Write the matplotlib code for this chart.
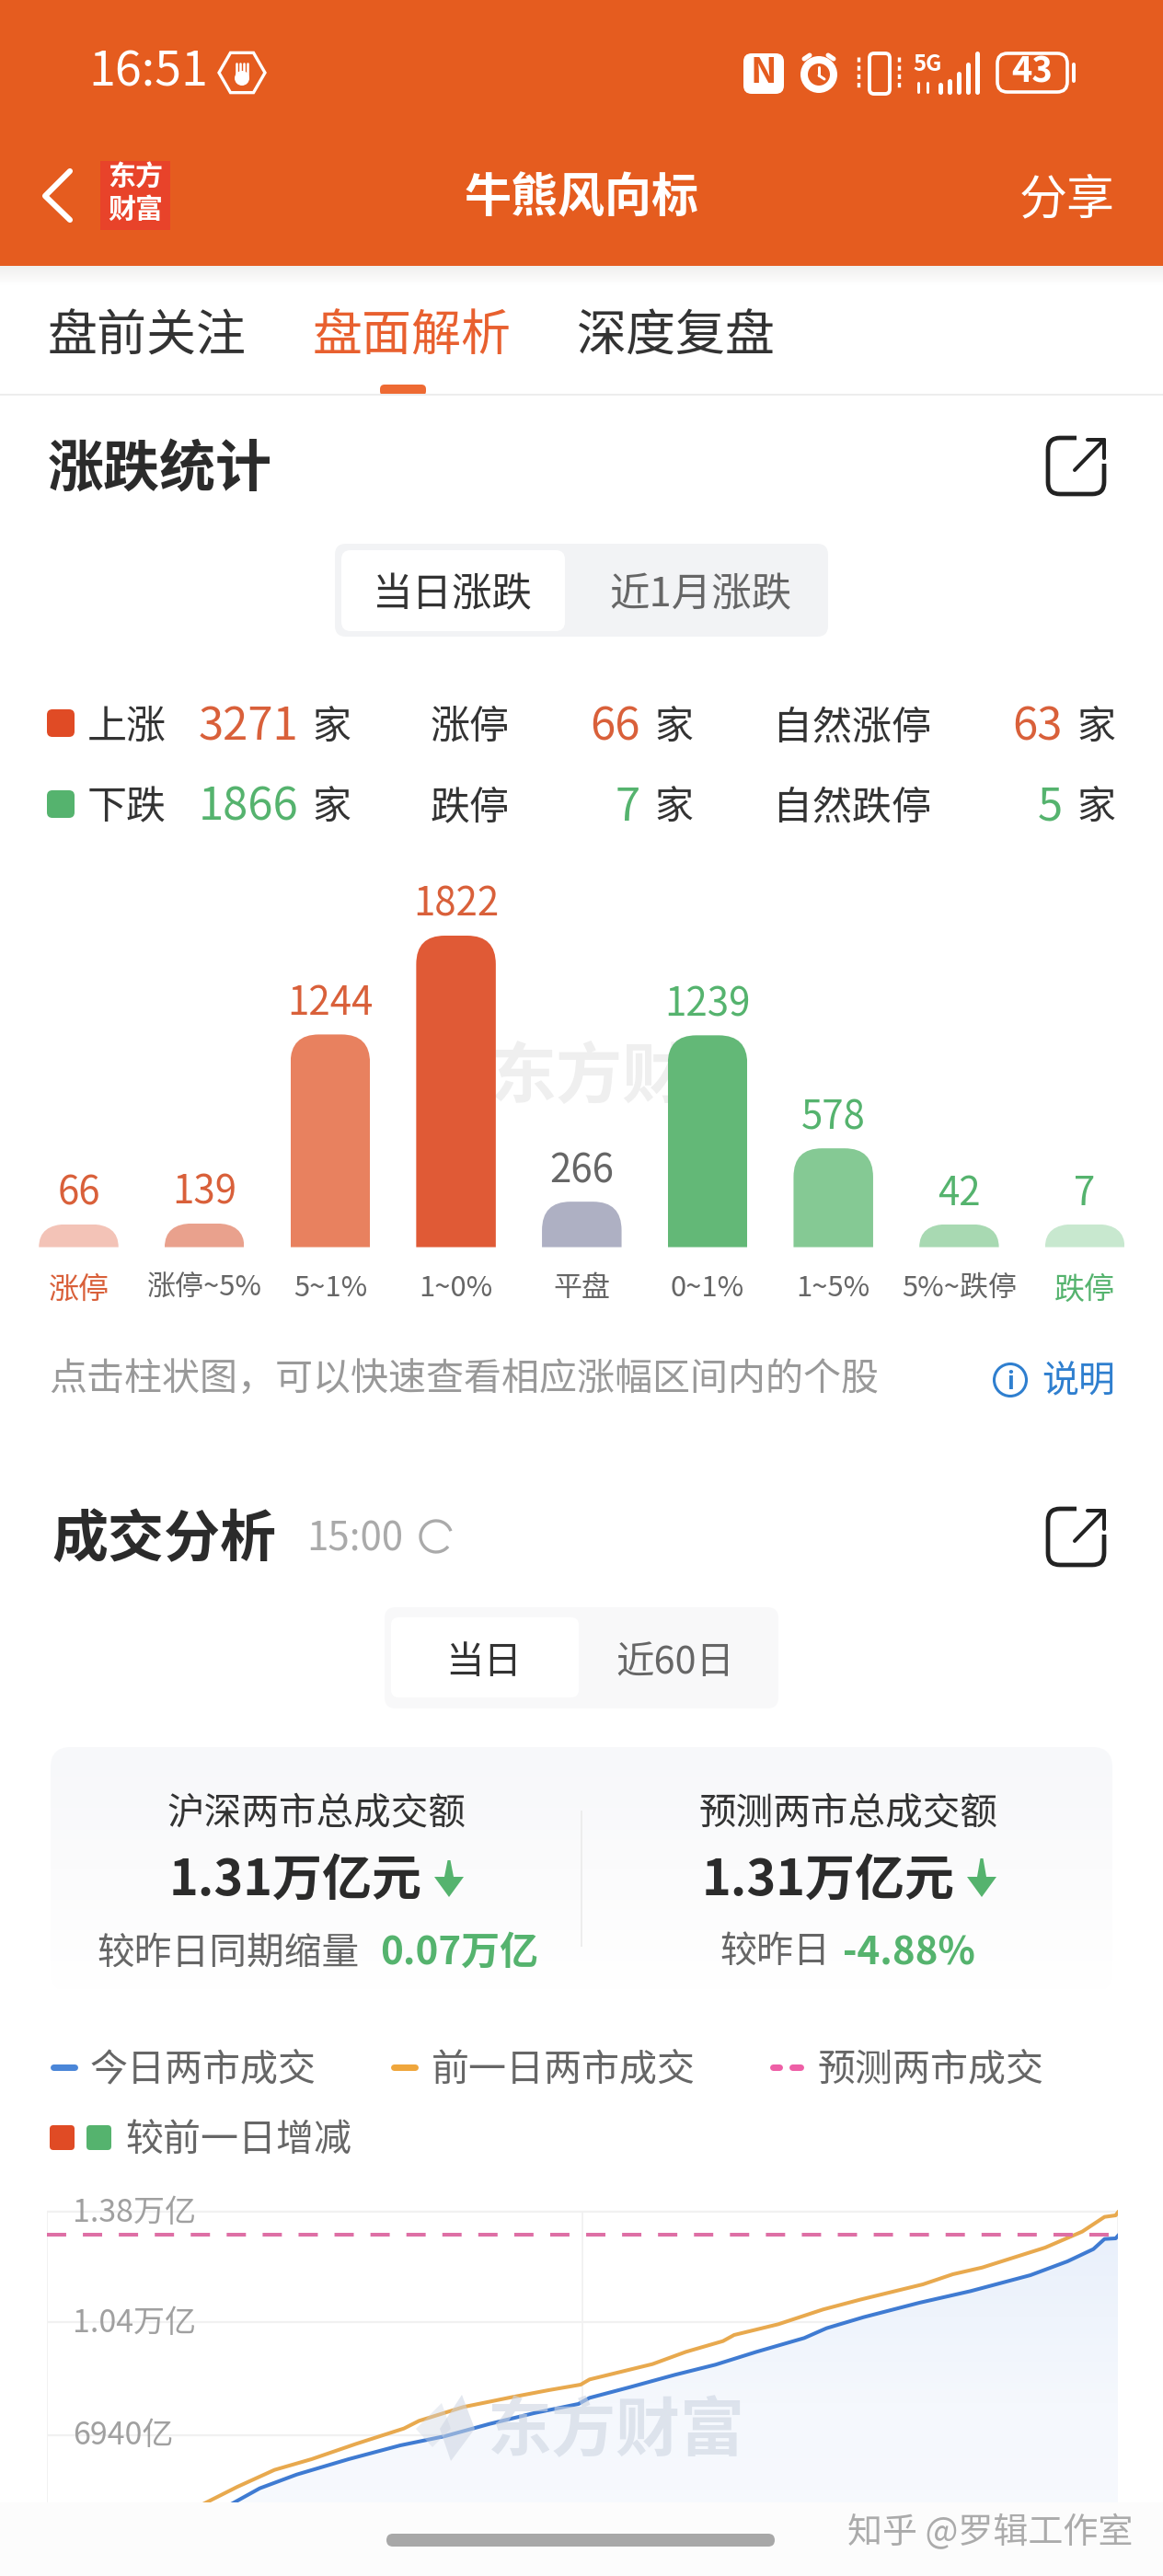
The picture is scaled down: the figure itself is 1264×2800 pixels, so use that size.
import numpy as np
import matplotlib
matplotlib.use('Agg')
import matplotlib.pyplot as plt
from matplotlib.patches import Rectangle, FancyBboxPatch, Circle, RegularPolygon, Polygon, PathPatch, Arc
from matplotlib.path import Path
from matplotlib.transforms import ScaledTranslation
from matplotlib.colors import LinearSegmentedColormap

plt.rcParams['font.family'] = ['Noto Sans CJK SC', 'DejaVu Sans']

W, H = 1264, 2800

# bar chart data
bar_cats = ['涨停', '涨停~5%', '5~1%', '1~0%', '平盘', '0~1%', '1~5%', '5%~跌停', '跌停']
bar_vals = [66, 139, 1244, 1822, 266, 1239, 578, 42, 7]
bar_cols = ['#F3C3B7', '#E9A18D', '#E8815F', '#E05A36', '#AEB0C3', '#63B877', '#85C994', '#A8D9B2', '#C8E8CF']
val_cols = ['#D9603A'] * 4 + ['#666666'] + ['#55B36E'] * 4
cat_cols = ['#D9603A'] + ['#666666'] * 7 + ['#55B36E']

# turnover lines (minutes after 9:30, 亿)
today_t = [41.5, 47.7, 56, 67.6, 79.2, 89.2, 99.2, 109.1, 119.1, 121.6, 130.7, 140.7, 149.8, 159,
           169.7, 174.7, 183, 195.5, 207, 220.4, 228.7, 234.5, 237, 239.5, 240]
today_v = [4837, 5308, 5731, 6202, 6626, 6908, 7285, 7614, 7897, 8085, 8415, 8791, 9102, 9497,
           9921, 10222, 10561, 11004, 11362, 11851, 12275, 12651, 12962, 12981, 13060]
prev_t = [35.2, 42.7, 51, 59.3, 69.3, 80, 83.4, 93.3, 104.1, 112.4, 119.6, 121.6, 135.7, 143.2,
          151.5, 154, 163.9, 173.9, 182.2, 196.3, 203, 209.6, 223.7, 232, 237, 239.5, 240]
prev_v = [4837, 5355, 5873, 6202, 6673, 7144, 7379, 7803, 8104, 8320, 8490, 8650, 9121, 9497,
          9827, 10015, 10345, 10797, 11098, 11569, 11879, 12086, 12698, 13188, 13640, 13687, 13780]
forecast = 13100
y_ticks = [6940, 10400, 13800]
y_labels = ['6940亿', '1.04万亿', '1.38万亿']

ORANGE = '#E55C1F'
RED = '#D9603A'
GREEN = '#55B36E'

fig = plt.figure(figsize=(W / 100, H / 100), dpi=100, facecolor='white')

ui = fig.add_axes([0, 0, 1, 1], zorder=0)
ui.set_xlim(0, W)
ui.set_ylim(H, 0)
ui.axis('off')


def t(x, y, s, px, color='#333333', ha='left', weight='normal', ax=ui, **kw):
    # text sits a few px below the box centre in this font
    return ax.text(x, y + 12, s, fontsize=px * 0.72, color=color, ha=ha, va='center', fontweight=weight, **kw)


def rrect(x0, y0, x1, y1, r, fc, ec='none', lw=0, ax=ui, **kw):
    p = FancyBboxPatch((x0 + r, y0 + r), x1 - x0 - 2 * r, y1 - y0 - 2 * r,
                       boxstyle='round,pad=%f,rounding_size=%f' % (r, r), fc=fc, ec=ec, lw=lw, **kw)
    ax.add_patch(p)
    return p


def seg(x0, y0, x1, y1, color='white', lw=3, ax=ui, **kw):
    ax.plot([x0, x1], [y0, y1], color=color, lw=lw * 0.72, solid_capstyle='round', **kw)


def share_icon(y0):
    rrect(1139, y0, 1200, y0 + 61, 13, 'none', ec='#222222', lw=3.4)
    ui.add_patch(Rectangle((1170, y0 - 4), 34, 32, fc='white', ec='none', zorder=3))
    seg(1168, y0 + 35, 1200, y0 + 2, '#222222', 4, zorder=4)
    seg(1182, y0 + 2, 1200, y0 + 2, '#222222', 4, zorder=4)
    seg(1200, y0 + 2, 1200, y0 + 22, '#222222', 4, zorder=4)


def down_arrow(xc, y0, y1):
    ui.add_patch(Polygon([[xc - 1.5, y0], [xc + 1.5, y0], [xc + 5, y1 - 22], [xc + 16, y1 - 22],
                          [xc, y1], [xc - 16, y1 - 22], [xc - 5, y1 - 22]], fc=GREEN, ec='none'))


# header
ui.add_patch(Rectangle((0, 0), W, 289, fc=ORANGE, ec='none'))
grad = np.linspace(0, 1, 30).reshape(-1, 1)
ui.imshow(grad, extent=(0, W, 310, 289), cmap=LinearSegmentedColormap.from_list('s', ['#F0EFEE', '#FFFFFF']),
          aspect='auto', zorder=0.5)
ui.set_xlim(0, W)
ui.set_ylim(H, 0)

t(96, 67, '16:51', 52, 'white')
ui.add_patch(RegularPolygon((263, 79), 6, radius=25, orientation=np.pi / 6, fc='none', ec='white', lw=2.4))
ui.add_patch(Circle((263, 85), 8, fc='white', ec='none'))
for dx in (-6, -2, 2, 6):
    seg(263 + dx, 82, 263 + dx, 69, 'white', 2.6)

rrect(808, 58, 852, 102, 9, 'white')
t(830, 66, 'N', 38, ORANGE, ha='center', weight='bold')
ui.add_patch(Circle((890, 81), 20, fc='white', ec='none'))
ui.add_patch(Circle((890, 81), 12, fc=ORANGE, ec='none'))
seg(890, 73, 890, 82, 'white', 3)
seg(890, 82, 896, 86, 'white', 3)
seg(874, 64, 880, 60, 'white', 5)
seg(906, 64, 900, 60, 'white', 5)
rrect(945, 58, 967, 102, 5, 'none', ec='white', lw=2.8)
for x in (933, 977):
    seg(x, 62, x, 96, 'white', 3.4, ls=(0, (1.5, 1.2)))
t(1008, 58, '5G', 24, 'white', ha='center', weight='bold')
for i, top_px in enumerate([92, 88, 80, 70, 58]):
    seg(1022 + i * 10, 100, 1022 + i * 10, top_px, 'white', 5)
seg(998, 90, 998, 100, 'white', 3)
seg(1008, 90, 1008, 100, 'white', 3)
rrect(1084, 58, 1160, 100, 11, 'none', ec='white', lw=2.6)
t(1122, 66, '43', 38, 'white', ha='center', weight='bold')
seg(1167, 70, 1167, 88, 'white', 4)

ui.plot([76, 49, 76], [186, 213, 239], color='white', lw=4.4, solid_capstyle='round', solid_joinstyle='round')
ui.add_patch(Rectangle((109, 175), 76, 75, fc='#E8432A', ec='none'))
t(147, 181, '东方', 30, 'white', ha='center', weight='bold')
t(147, 216, '财富', 30, 'white', ha='center', weight='bold')
t(632, 204, '牛熊风向标', 51, 'white', ha='center', weight='bold')
t(1212, 206, '分享', 52, 'white', ha='right')

# tabs
t(52, 354, '盘前关注', 54, '#333333')
t(340, 354, '盘面解析', 54, '#E8602F')
t(627, 354, '深度复盘', 54, '#333333')
rrect(413, 418, 463, 430, 5, '#EE6A33')
ui.add_patch(Rectangle((0, 428), W, 2, fc='#EDEDED', ec='none', zorder=2))

# 涨跌统计
t(52, 500, '涨跌统计', 61, '#2B2B2B', weight='bold')
share_icon(476)
rrect(364, 591, 900, 692, 12, '#F2F3F5')
rrect(371, 598, 614, 686, 10, 'white')
t(492, 635, '当日涨跌', 43.5, '#333333', ha='center')
t(761, 635, '近1月涨跌', 43.5, '#666666', ha='center')

rrect(51, 771, 81, 801, 6, '#E04B25')
rrect(51, 859, 81, 889, 6, GREEN)
for y, head, n0, col, h2, n1, h3, n2 in [(779, '上涨', '3271', RED, '涨停', '66', '自然涨停', '63'),
                                         (866, '下跌', '1866', GREEN, '跌停', '7', '自然跌停', '5')]:
    t(95, y, head, 43)
    t(324, y, n0, 49, col, ha='right')
    t(339, y, '家', 42)
    t(468, y, h2, 43)
    t(696, y, n1, 49, col, ha='right')
    t(711, y, '家', 42)
    t(840, y, h3, 43)
    t(1155, y, n2, 49, col, ha='right')
    t(1170, y, '家', 42)

t(533, 1160, '东方财', 72, '#EFEFEF', weight='bold')

# bar chart
step = 136.7
base_y = 1355.6
top_y = 1017.0
ax = fig.add_axes([(85.5 - step / 2) / W, (H - base_y) / H, 9 * step / W, (base_y - top_y) / H], zorder=1)
ax.patch.set_alpha(0)
xs = np.arange(len(bar_vals))
per_px = 1822 / (base_y - top_y)
min_h = 25 * per_px
heights = np.maximum(bar_vals, min_h)
bar_w = 86.5 / step
bars = ax.bar(xs, heights, width=bar_w, color=bar_cols)
ax.set_xlim(-0.5, len(bar_vals) - 0.5)
ax.set_ylim(0, 1822)
rx = 31 / step
for b, x, h in zip(bars, xs, heights):
    ry = min(h, 31 * per_px)
    x0, x1 = x - bar_w / 2, x + bar_w / 2
    verts = [(x0, 0), (x0, h - ry), (x0, h), (x0 + rx, h), (x1 - rx, h), (x1, h), (x1, h - ry), (x1, 0), (x0, 0)]
    codes = [Path.MOVETO, Path.LINETO, Path.CURVE3, Path.CURVE3, Path.LINETO, Path.CURVE3, Path.CURVE3,
             Path.LINETO, Path.CLOSEPOLY]
    b.set_clip_path(PathPatch(Path(verts, codes), transform=ax.transData))
for x, h, v, c in zip(xs, heights, bar_vals, val_cols):
    ax.annotate(str(v), (x, h), xytext=(0, 33 * 0.72), textcoords='offset points', ha='center', va='center',
                fontsize=42 * 0.72, color=c, annotation_clip=False)
ax.set_xticks(xs)
ax.set_xticklabels(bar_cats, fontsize=31 * 0.72)
for lab, c in zip(ax.get_xticklabels(), cat_cols):
    lab.set_color(c)
    if c != '#666666':
        lab.set_fontsize(33 * 0.72)
ax.tick_params(axis='x', length=0, pad=21)
ax.set_yticks([])
for s in ax.spines.values():
    s.set_visible(False)

t(53, 1488, '点击柱状图，可以快速查看相应涨幅区间内的个股', 41, '#999999')
ui.add_patch(Circle((1098, 1500), 17.5, fc='none', ec='#2F7FCF', lw=2.2))
t(1098, 1490, 'i', 26, '#2F7FCF', ha='center', weight='bold')
t(1132, 1490, '说明', 40, '#2F7FCF')

# 成交分析
t(56, 1662, '成交分析', 61, '#2B2B2B', weight='bold')
t(333, 1662, '15:00', 42, '#AAAAAA')
ui.add_patch(Arc((474, 1670), 34, 34, theta1=40, theta2=340, ec='#AAAAAA', lw=2.4))
share_icon(1640)
rrect(418, 1747, 846, 1857, 12, '#F8F8F9')
rrect(425, 1758, 629, 1845, 8, 'white')
t(526, 1796, '当日', 41.5, '#333333', ha='center')
t(734, 1796, '近60日', 41.5, '#666666', ha='center')

card = rrect(55, 1899, 1209, 2165, 22, 'none')
img = ui.imshow(np.linspace(0, 1, 80).reshape(-1, 1), extent=(55, 1209, 2165, 1899), aspect='auto',
                cmap=LinearSegmentedColormap.from_list('c', ['#F7F8FA', '#FBFBFC', '#FFFFFF']), zorder=0.6)
img.set_clip_path(card)
ui.set_xlim(0, W)
ui.set_ylim(H, 0)
ui.add_patch(Rectangle((631, 1968), 2, 148, fc='#EDEDED', ec='none', zorder=1))
t(344, 1960, '沪深两市总成交额', 40.6, '#333333', ha='center')
t(922, 1960, '预测两市总成交额', 40.6, '#333333', ha='center')
t(184, 2032, '1.31万亿元', 54, '#2B2B2B', weight='bold')
t(763, 2032, '1.31万亿元', 54, '#2B2B2B', weight='bold')
down_arrow(488, 2022, 2062)
down_arrow(1067, 2020, 2062)
t(105, 2111, '较昨日同期缩量', 40.7, '#666666')
t(413, 2111, '0.07万亿', 42, GREEN, weight='bold')
t(782, 2111, '较昨日', 40, '#666666')
t(916, 2111, '-4.88%', 42, GREEN, weight='bold')

# legend
seg(58, 2247, 81, 2247, '#4A86D8', 7)
t(98, 2238, '今日两市成交', 41, '#666666')
seg(428, 2247, 451, 2247, '#EFA63C', 7)
t(469, 2238, '前一日两市成交', 41, '#666666')
seg(840, 2247, 847, 2247, '#EE5FA6', 7)
seg(861, 2247, 870, 2247, '#EE5FA6', 7)
t(888, 2238, '预测两市成交', 41, '#666666')
rrect(54, 2310, 81, 2337, 4, '#E04B25')
rrect(94, 2310, 121, 2337, 4, GREEN)
t(136, 2315, '较前一日增减', 41, '#666666')

# line chart
chart_top = 2400
px_per_val = 122.5 / 3460
lc = fig.add_axes([51 / W, 0, (1215 - 51) / W, (H - chart_top) / H], zorder=1)
lc.patch.set_alpha(0)
lc.set_xlim(0, 240)
lc.set_ylim(13800 - (H - 2404) / px_per_val, 13800 + 4 / px_per_val)
y_lo, y_hi = lc.get_ylim()
for v in y_ticks:
    lc.axhline(v, color='#F1F1F1', lw=1.6, zorder=1)
lc.vlines([0, 120, 240], y_lo, 13800, color='#F1F1F1', lw=1.3, zorder=1)
fill = lc.fill_between(today_t, today_v, y_lo, color='none', zorder=1.5)
grad_im = lc.imshow(np.linspace(0, 1, 100).reshape(-1, 1), extent=(0, 240, y_lo, 13200), aspect='auto',
                    cmap=LinearSegmentedColormap.from_list('f', ['#E9F0FB', '#F5F8FD', '#F8FAFE']), zorder=1.5)
verts = fill.get_paths()[0]
grad_im.set_clip_path(PathPatch(verts, transform=lc.transData))
lc.set_xlim(0, 240)
lc.set_ylim(y_lo, y_hi)
lc.plot(prev_t, prev_v, color='#E8A94E', lw=2.9, zorder=3)
lc.plot(today_t, today_v, color='#3F7BD2', lw=2.9, zorder=3)
lc.axhline(forecast, color='#DE6FA5', lw=2.9, ls=(0, (5.2, 4.5)), zorder=4)
lc.set_xticks([])
lc.set_yticks(y_ticks)
lc.set_yticklabels(y_labels, fontsize=34 * 0.72, color='#A0A0A0', ha='left')
lc.tick_params(axis='y', length=0, pad=-20)
for lab in lc.get_yticklabels():
    lab.set_transform(lab.get_transform() + ScaledTranslation(0, 3 / 100, fig.dpi_scale_trans))
for s in lc.spines.values():
    s.set_visible(False)

# overlay: watermark and nav bar
top = fig.add_axes([0, 0, 1, 1], zorder=5)
top.set_xlim(0, W)
top.set_ylim(H, 0)
top.axis('off')
top.patch.set_alpha(0)
t(530, 2632, '东方财富', 70, '#CDD5E2', weight='bold', ax=top, alpha=0.6)
top.add_patch(Polygon([[502, 2603], [516, 2640], [490, 2675], [478, 2640]], fc='#CDD5E2', ec='none', alpha=0.55))
top.add_patch(Polygon([[480, 2612], [490, 2640], [470, 2660], [452, 2640]], fc='#CDD5E2', ec='none', alpha=0.4))
top.add_patch(Rectangle((0, 2720), W, 80, fc='#FCFCFC', ec='none'))
rrect(420, 2754, 842, 2768, 7, '#A8A8A8', ax=top)
t(921, 2742, '知乎 @罗辑工作室', 38, '#ABABAB', ax=top)

fig.savefig('out.png', dpi=100)
